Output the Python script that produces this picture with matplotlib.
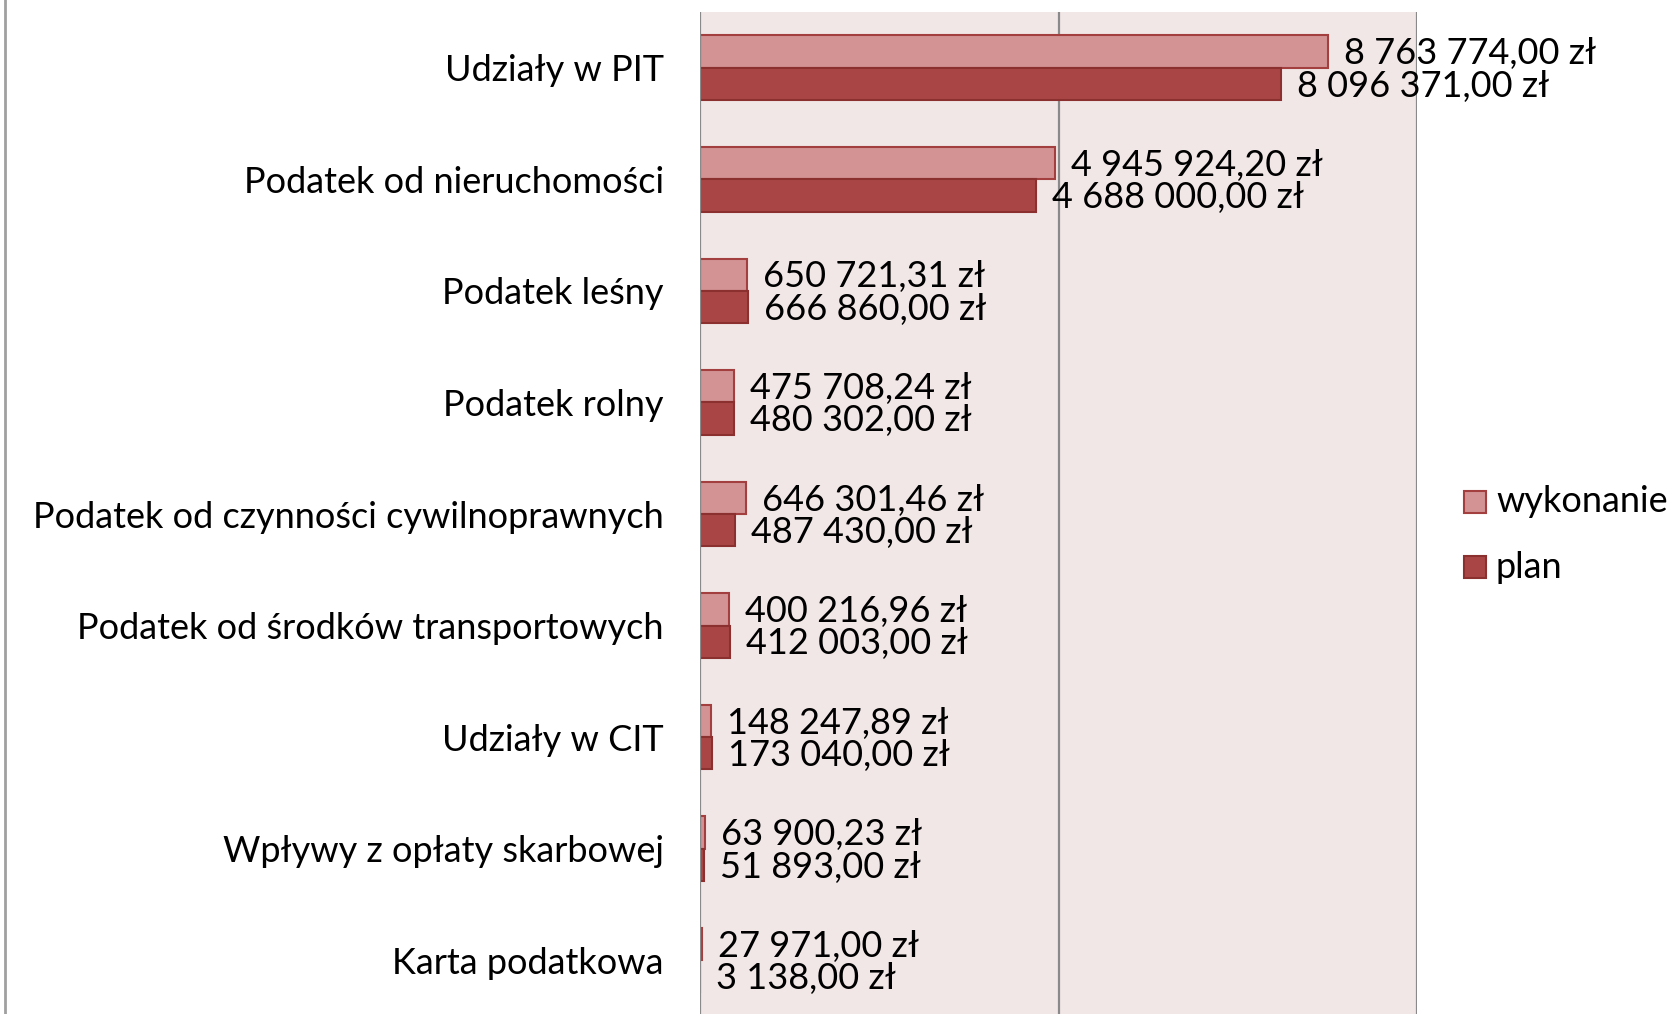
import matplotlib

matplotlib.use("Agg")
import matplotlib.pyplot as plt
from matplotlib.lines import Line2D
import matplotlib.patches as mpatches

categories = [
    "Udziały w PIT",
    "Podatek od nieruchomości",
    "Podatek leśny",
    "Podatek rolny",
    "Podatek od czynności cywilnoprawnych",
    "Podatek od środków transportowych",
    "Udziały w CIT",
    "Wpływy z opłaty skarbowej",
    "Karta podatkowa",
]
wykonanie = [8763774.00, 4945924.20, 650721.31, 475708.24, 646301.46,
             400216.96, 148247.89, 63900.23, 27971.00]
plan = [8096371.00, 4688000.00, 666860.00, 480302.00, 487430.00,
        412003.00, 173040.00, 51893.00, 3138.00]
series_names = ["wykonanie", "plan"]
x_ticks = [0, 5000000, 10000000]

FONT = ["Lato", "DejaVu Sans"]
FS = 26
C_WYK = "#D39394"
C_WYK_EDGE = "#A3403F"
C_PLAN = "#A94545"
C_PLAN_EDGE = "#8C2F2F"


def fmt_pln(v):
    whole, frac = f"{v:.2f}".split(".")
    whole = f"{int(whole):,}".replace(",", " ")
    return f"{whole},{frac} zł"


W, H = 1677, 1014
fig = plt.figure(figsize=(W / 100, H / 100), dpi=100)
fig.patch.set_facecolor("white")

# plot area in pixel coords
left, right, top, bottom = 700, 1417, 12, 1016
ax = fig.add_axes([left / W, 1 - bottom / H, (right - left) / W, (bottom - top) / H])
ax.set_facecolor("#F2E7E7")

n = len(categories)
ys = list(range(n))
bh = 0.29
ax.barh([y - bh / 2 for y in ys], wykonanie, height=bh, color=C_WYK,
        edgecolor=C_WYK_EDGE, linewidth=1.5, zorder=3)
ax.barh([y + bh / 2 for y in ys], plan, height=bh, color=C_PLAN,
        edgecolor=C_PLAN_EDGE, linewidth=1.5, zorder=3)

ax.set_xlim(x_ticks[0], x_ticks[-1])
ax.set_ylim(n - 0.5, -0.5)
for t in x_ticks[1:]:
    ax.axvline(t, color="#8A8A8A", linewidth=1.6, zorder=2)
ax.axvline(0, color="#8A8A8A", linewidth=1.6, zorder=4)

for s in ax.spines.values():
    s.set_visible(False)
ax.set_xticks([])
ax.set_yticks(ys)
ax.set_yticklabels(categories, fontsize=FS, family=FONT)
ax.tick_params(axis="y", length=0, pad=26)

off = 16 * (x_ticks[-1] - x_ticks[0]) / (right - left)
dy = 0.02  # labels sit a touch lower than bar centres
for y, a, b in zip(ys, wykonanie, plan):
    ax.text(a + off, y - bh / 2 + dy, fmt_pln(a), va="center", ha="left",
            fontsize=FS, family=FONT, zorder=5, clip_on=False)
    ax.text(b + off, y + bh / 2 + dy, fmt_pln(b), va="center", ha="left",
            fontsize=FS, family=FONT, zorder=5, clip_on=False)

# legend
for name, fc, ec, yc in [(series_names[0], C_WYK, C_WYK_EDGE, 502),
                         (series_names[1], C_PLAN, C_PLAN_EDGE, 567)]:
    fig.patches.append(mpatches.Rectangle(
        (1464 / W, 1 - (yc + 11) / H), 22 / W, 22 / H,
        transform=fig.transFigure, facecolor=fc, edgecolor=ec, linewidth=1.5))
    fig.text(1496 / W, 1 - yc / H, name, va="center", ha="left",
             fontsize=FS, family=FONT)

# chart border (left edge only visible)
fig.lines.append(Line2D([5 / W, 5 / W], [0, 1], transform=fig.transFigure,
                        color="#A0A0A0", linewidth=2))

fig.savefig("out.png", dpi=100)
